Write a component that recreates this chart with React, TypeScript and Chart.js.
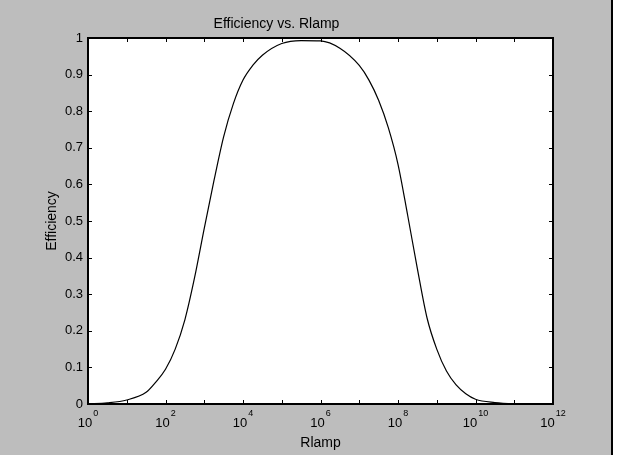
import React, { useEffect, useRef } from "react";
import { Chart, registerables } from "chart.js";

Chart.register(...registerables);

// Rlamp values (log-spaced reading points) and efficiency
const rlamp = [
  1, 3.16, 10, 31.6, 56.2, 100, 178, 316, 562, 1e3, 1.78e3, 3.16e3, 5.62e3, 1e4,
  1.78e4, 3.16e4, 1e5, 3.16e5, 1e6, 3.16e6, 1e7, 1.78e7, 3.16e7, 5.62e7, 1e8,
  1.78e8, 3.16e8, 5.62e8, 1e9, 1.78e9, 3.16e9, 5.62e9, 1e10, 3.16e10, 1e11, 1e12,
];
const efficiency = [
  0.0, 0.003, 0.011, 0.032, 0.06, 0.095, 0.15, 0.23, 0.345, 0.48, 0.61, 0.73,
  0.82, 0.885, 0.925, 0.953, 0.985, 0.993, 0.992, 0.972, 0.925, 0.885, 0.83,
  0.755, 0.655, 0.515, 0.37, 0.235, 0.15, 0.09, 0.052, 0.028, 0.013, 0.004,
  0.001, 0.0,
];

const xTickValues = [1, 1e1, 1e2, 1e3, 1e4, 1e5, 1e6, 1e7, 1e8, 1e9, 1e10, 1e11, 1e12];
// labelled decades: base "10" with superscript exponent
const xLabelBase = "10";
const xLabelExponents = ["0", "", "2", "", "4", "", "6", "", "8", "", "10", "", "12"];
const yTickValues = [0, 0.1, 0.2, 0.3, 0.4, 0.5, 0.6, 0.7, 0.8, 0.9, 1];
const yTickLabels = ["0", "0.1", "0.2", "0.3", "0.4", "0.5", "0.6", "0.7", "0.8", "0.9", "1"];

const FONT = "'Liberation Sans', Arial, Helvetica, sans-serif";

export default function App() {
  const ref = useRef<HTMLCanvasElement>(null);

  useEffect(() => {
    document.body.style.margin = "0";
    const canvas = ref.current;
    if (!canvas) return;

    const frame = {
      id: "frame",
      beforeDraw(chart: any) {
        const { ctx, chartArea: a, width, height } = chart;
        ctx.save();
        ctx.fillStyle = "#bdbdbd";
        ctx.fillRect(0, 0, width, height);
        ctx.fillStyle = "#ffffff";
        ctx.fillRect(613, 0, width - 613, height);
        ctx.fillStyle = "#000000";
        ctx.fillRect(611, 0, 2, height);
        ctx.fillStyle = "#ffffff";
        ctx.fillRect(a.left, a.top, a.right - a.left, a.bottom - a.top);
        ctx.restore();
      },
      afterDatasetsDraw(chart: any) {
        const { ctx, chartArea: a } = chart;
        const xs = chart.scales.x;
        const ys = chart.scales.y;
        const tl = 4;
        ctx.save();
        ctx.strokeStyle = "#000";
        ctx.lineWidth = 2;
        ctx.strokeRect(a.left, a.top, a.right - a.left, a.bottom - a.top);
        ctx.lineWidth = 1;
        ctx.beginPath();
        xTickValues.forEach((v) => {
          const px = Math.round(xs.getPixelForValue(v)) + 0.5;
          ctx.moveTo(px, a.bottom);
          ctx.lineTo(px, a.bottom - tl);
          ctx.moveTo(px, a.top);
          ctx.lineTo(px, a.top + tl);
        });
        yTickValues.forEach((v) => {
          const py = Math.round(ys.getPixelForValue(v)) + 0.5;
          ctx.moveTo(a.left, py);
          ctx.lineTo(a.left + tl, py);
          ctx.moveTo(a.right, py);
          ctx.lineTo(a.right - tl, py);
        });
        ctx.stroke();

        // x tick labels: "10" with raised exponent
        ctx.fillStyle = "#000";
        ctx.textBaseline = "alphabetic";
        ctx.textAlign = "left";
        xTickValues.forEach((v, i) => {
          const exp = xLabelExponents[i];
          if (!exp) return;
          const px = xs.getPixelForValue(v);
          ctx.font = `13px ${FONT}`;
          const wb = ctx.measureText(xLabelBase).width;
          ctx.font = `9px ${FONT}`;
          const we = ctx.measureText(exp).width;
          const x0 = px - (wb + we + 1) / 2;
          ctx.font = `13px ${FONT}`;
          ctx.fillText(xLabelBase, x0, a.bottom + 23);
          ctx.font = `9px ${FONT}`;
          ctx.fillText(exp, x0 + wb + 1, a.bottom + 12);
        });
        ctx.restore();
      },
    };

    const tickFont = { family: FONT, size: 13, weight: "normal" as const, lineHeight: 1.2 };
    const labelFont = { family: FONT, size: 14, weight: "normal" as const, lineHeight: 1.2 };

    const chart = new Chart(canvas, {
      type: "line",
      data: {
        datasets: [
          {
            data: rlamp.map((x, i) => ({ x, y: efficiency[i] })),
            borderColor: "#000000",
            borderWidth: 1.2,
            pointRadius: 0,
            fill: false,
            cubicInterpolationMode: "monotone",
          },
        ],
      },
      options: {
        responsive: false,
        animation: false,
        devicePixelRatio: 1,
        layout: { padding: { left: 0, right: 69, top: 0, bottom: 0 } },
        plugins: {
          legend: { display: false },
          tooltip: { enabled: false },
          title: {
            display: true,
            text: "Efficiency vs. Rlamp",
            color: "#000",
            font: labelFont,
            padding: { top: 15.6, bottom: 5.6 },
          },
        },
        scales: {
          x: {
            type: "logarithmic",
            min: 1,
            max: 1e12,
            afterBuildTicks: (s: any) => {
              s.ticks = xTickValues.map((value) => ({ value }));
            },
            afterFit: (s: any) => {
              s.height = 51;
            },
            grid: { display: false, drawTicks: false },
            border: { display: false },
            ticks: {
              autoSkip: false,
              maxRotation: 0,
              minRotation: 0,
              padding: 10,
              color: "#000",
              font: tickFont,
              callback: () => "",
            },
            title: {
              display: true,
              text: "Rlamp",
              color: "#000",
              font: labelFont,
              padding: { top: 0, bottom: 3.6 },
            },
          },
          y: {
            type: "linear",
            min: 0,
            max: 1,
            afterBuildTicks: (s: any) => {
              s.ticks = yTickValues.map((value) => ({ value }));
            },
            afterFit: (s: any) => {
              s.width = 88;
            },
            grid: { display: false, drawTicks: false },
            border: { display: false },
            ticks: {
              autoSkip: false,
              padding: 5,
              color: "#000",
              font: tickFont,
              callback: (_v: any, i: number) => yTickLabels[i],
            },
            title: {
              display: true,
              text: "Efficiency",
              color: "#000",
              font: labelFont,
              padding: { top: 43.6, bottom: 0 },
            },
          },
        },
      },
      plugins: [frame],
    } as any);

    return () => chart.destroy();
  }, []);

  return <canvas ref={ref} width={622} height={455} style={{ display: "block" }} />;
}
